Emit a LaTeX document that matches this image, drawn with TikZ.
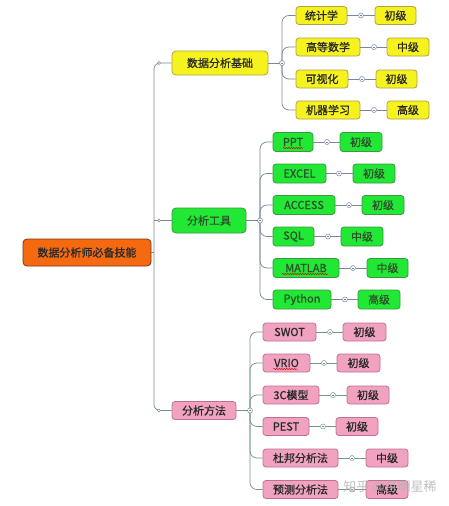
\documentclass[tikz,border=0pt]{standalone}
\usepackage{fontspec}
\newfontfamily\cjk[FakeBold=0.9]{Noto Sans CJK SC}
\newfontfamily\cjkw{Noto Sans CJK SC}
\usetikzlibrary{decorations.pathmorphing}
\definecolor{yfill}{RGB}{246,242,30}
\definecolor{ydraw}{RGB}{178,160,70}
\definecolor{gfill}{RGB}{32,232,52}
\definecolor{gdraw}{RGB}{62,150,62}
\definecolor{pfill}{RGB}{240,162,192}
\definecolor{pdraw}{RGB}{190,112,142}
\definecolor{ofill}{RGB}{245,106,16}
\definecolor{odraw}{RGB}{120,50,20}
\definecolor{linec}{RGB}{120,135,155}
\definecolor{linep}{RGB}{118,150,134}
\definecolor{txt}{RGB}{40,40,40}
\definecolor{gtxt}{RGB}{45,80,45}
\tikzset{
  x=1pt, y=-1pt,
  box/.style={rounded corners=3pt, line width=0.8pt, inner sep=0pt, minimum height=18pt,
    font=\cjk\fontsize{11}{13}\selectfont, text=txt},
  ybox/.style={box, fill=yfill, draw=ydraw},
  gbox/.style={box, fill=gfill, draw=gdraw, text=gtxt, minimum height=19pt},
  pbox/.style={box, fill=pfill, draw=pdraw},
  conn/.style={draw=linec, line width=0.7pt},
  connp/.style={draw=linep, line width=0.7pt},
  mcirc/.style={circle, draw=linec, fill=white, minimum size=5pt, inner sep=0pt, line width=0.5pt,
    path picture={\draw[linec, line width=0.5pt] ([xshift=-1.4pt]path picture bounding box.center) -- ([xshift=1.4pt]path picture bounding box.center);}},
  ocirc/.style={circle, draw=linec, fill=white, minimum size=3pt, inner sep=0pt, line width=0.5pt},
  squig/.style={draw=red!80!black, line width=0.5pt, decorate, decoration={snake, amplitude=0.6pt, segment length=2.5pt}},
}
\begin{document}
\begin{tikzpicture}
\useasboundingbox (0,0) rectangle (448,506);
\fill[white] (0,0) rectangle (448,506);

% ---------- main nodes ----------
\node[box, fill=ofill, draw=odraw, minimum width=128pt, minimum height=27pt, rounded corners=4pt] (root) at (87,252.5) {数据分析师必备技能};
\node[ybox, minimum width=96pt, minimum height=24pt, rounded corners=4pt] (b1) at (220,63) {数据分析基础};
\node[gbox, minimum width=74pt, minimum height=25pt, rounded corners=4pt] (b2) at (209,220.5) {分析工具};
\node[pbox, minimum width=64pt, minimum height=18pt] (b3) at (204,410.5) {分析方法};

% trunk
\coordinate (t1) at (154,63);
\coordinate (t2) at (154,220.5);
\coordinate (t3) at (154,410.5);
\coordinate (tr) at (154,252.5);
\draw[conn, rounded corners=6pt] (b1.west) -- (t1) -- (t3) -- (b3.west);
\draw[conn] (t2) -- (b2.west);
\draw[conn] (root.east) -- (tr);
\node[ocirc] (o1) at (159,63) {};
\node[ocirc] (o2) at (159,220.5) {};
\node[ocirc, draw=linep] (o3) at (159,410.5) {};

% ---------- branch 1 ----------
\coordinate (j1) at (282,63);
\node[ybox, minimum width=51pt] (y1) at (321.5,15.5) {统计学};
\node[ybox, minimum width=64pt] (y2) at (328,47) {高等数学};
\node[ybox, minimum width=52pt] (y3) at (322,79) {可视化};
\node[ybox, minimum width=64pt] (y4) at (328,110) {机器学习};
\node[ybox, minimum width=41pt] (yl1) at (395.5,15.5) {初级};
\node[ybox, minimum width=42pt] (yl2) at (408,47) {中级};
\node[ybox, minimum width=41pt] (yl3) at (396.5,79) {初级};
\node[ybox, minimum width=42pt] (yl4) at (408,110) {高级};
\foreach \i in {1,2,3,4} \draw[conn, rounded corners=7pt] (j1) |- (y\i.west);
\draw[conn] (b1.east) -- (j1);
\node[mcirc] (jc1) at (j1) {};
\node[mcirc] (ym1) at (361,15.5) {};
\node[mcirc] (ym2) at (374,47) {};
\node[mcirc] (ym3) at (362,79) {};
\node[mcirc] (ym4) at (374,110) {};
\foreach \i in {1,2,3,4} {
  \draw[conn] (y\i.east) -- (ym\i.west);
  \draw[conn] (ym\i.east) -- (yl\i.west);
}

% ---------- branch 2 ----------
\coordinate (j2) at (260,220.5);
\node[gbox, minimum width=40pt] (g1) at (293,142) {PPT};
\node[gbox, minimum width=53pt] (g2) at (299.5,173.5) {EXCEL};
\node[gbox, minimum width=62pt] (g3) at (304,205) {ACCESS};
\node[gbox, minimum width=41pt] (g4) at (293.5,236.5) {SQL};
\node[gbox, minimum width=66pt] (g5) at (306,268) {MATLAB};
\node[gbox, minimum width=58pt] (g6) at (302,299.5) {Python};
\node[gbox, minimum width=42pt] (gl1) at (361,142) {初级};
\node[gbox, minimum width=42pt] (gl2) at (374,173.5) {初级};
\node[gbox, minimum width=42pt] (gl3) at (383,205) {初级};
\node[gbox, minimum width=42pt] (gl4) at (362,236.5) {中级};
\node[gbox, minimum width=41pt] (gl5) at (387.5,268) {中级};
\node[gbox, minimum width=42pt] (gl6) at (379,299.5) {高级};
\foreach \i in {1,...,6} \draw[conn, rounded corners=7pt] (j2) |- (g\i.west);
\draw[conn] (b2.east) -- (j2);
\node[mcirc] (jc2) at (j2) {};
\node[mcirc] (gm1) at (327,142) {};
\node[mcirc] (gm2) at (339,173.5) {};
\node[mcirc] (gm3) at (349,205) {};
\node[mcirc] (gm4) at (328,236.5) {};
\node[mcirc] (gm5) at (353,268) {};
\node[mcirc] (gm6) at (345,299.5) {};
\foreach \i in {1,...,6} {
  \draw[conn] (g\i.east) -- (gm\i.west);
  \draw[conn] (gm\i.east) -- (gl\i.west);
}
% spell-check underlines
\draw[squig] ([xshift=-10pt,yshift=-6pt]g1.center) -- ([xshift=10pt,yshift=-6pt]g1.center);
\draw[squig] ([xshift=-24pt,yshift=-6pt]g5.center) -- ([xshift=22pt,yshift=-6pt]g5.center);

% ---------- branch 3 ----------
\coordinate (j3) at (250,410.5);
\node[pbox, minimum width=53pt] (p1) at (289.5,332) {SWOT};
\node[pbox, minimum width=47pt] (p2) at (286.5,363) {VRIO};
\node[pbox, minimum width=56pt] (p3) at (291,395) {3C模型};
\node[pbox, minimum width=46pt] (p4) at (286,426.5) {PEST};
\node[pbox, minimum width=75pt] (p5) at (300.5,458) {杜邦分析法};
\node[pbox, minimum width=75pt] (p6) at (300.5,489.5) {预测分析法};
\node[pbox, minimum width=43pt] (pl1) at (364.5,332) {初级};
\node[pbox, minimum width=43pt] (pl2) at (358.5,363) {初级};
\node[pbox, minimum width=42pt] (pl3) at (368,395) {初级};
\node[pbox, minimum width=42pt] (pl4) at (357,426.5) {初级};
\node[pbox, minimum width=42pt] (pl5) at (387,458) {中级};
\node[pbox, minimum width=42pt] (pl6) at (387,489.5) {高级};
\foreach \i in {1,...,6} \draw[connp, rounded corners=7pt] (j3) |- (p\i.west);
\draw[connp] (b3.east) -- (j3);
\node[mcirc, draw=linep] (jc3) at (j3) {};
\node[mcirc, draw=linep] (pm1) at (330,332) {};
\node[mcirc, draw=linep] (pm2) at (324,363) {};
\node[mcirc, draw=linep] (pm3) at (333,395) {};
\node[mcirc, draw=linep] (pm4) at (323,426.5) {};
\node[mcirc, draw=linep] (pm5) at (352,458) {};
\node[mcirc, draw=linep] (pm6) at (352,489.5) {};
\foreach \i in {1,...,6} {
  \draw[connp] (p\i.east) -- (pm\i.west);
  \draw[connp] (pm\i.east) -- (pl\i.west);
}
\draw[squig] ([xshift=-13pt,yshift=-6pt]p2.center) -- ([xshift=11pt,yshift=-6pt]p2.center);

% watermark
\node[font=\cjkw\fontsize{13}{15}\selectfont, text=white!70!black, opacity=0.8, inner sep=0pt] (wm) at (390,487) {知乎 @月明星稀};
\end{tikzpicture}
\end{document}
